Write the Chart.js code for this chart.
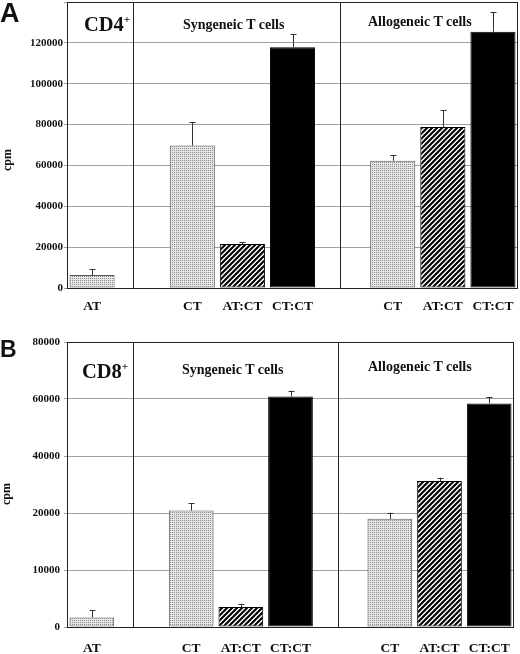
<!DOCTYPE html>
<html><head><meta charset="utf-8">
<script src="https://cdn.jsdelivr.net/npm/chart.js@4.4.1/dist/chart.umd.min.js"></script>
<style>
html,body{margin:0;padding:0;background:#fff;width:520px;height:654px;overflow:hidden;}
body{position:relative;}
#wrapA{position:absolute;left:0;top:0;width:520px;height:318px;}
#wrapB{position:absolute;left:0;top:320px;width:520px;height:334px;}
.t{position:absolute;font-family:"Liberation Serif",serif;font-weight:bold;white-space:nowrap;color:#111;line-height:1;}
.s{font-family:"Liberation Sans",Arial,sans-serif;}
.cpm{position:absolute;width:40px;height:14px;line-height:14px;text-align:center;font-family:"Liberation Serif",serif;font-weight:bold;font-size:12px;color:#111;transform:rotate(-90deg);}
sup{font-size:0.55em;vertical-align:0.75em;line-height:0;}
</style></head><body>
<div id="wrapA"><canvas id="cA"></canvas></div>
<div id="wrapB"><canvas id="cB"></canvas></div>

<div class="t s" style="left:0;top:0;font-size:27px;">A</div>
<div class="t s" style="left:0;top:338px;font-size:23px;">B</div>
<div class="cpm" style="left:-13px;top:153px;">cpm</div>
<div class="cpm" style="left:-14px;top:487px;">cpm</div>
<div class="t" style="left:84px;top:14px;font-size:20.5px;">CD4<sup>+</sup></div>
<div class="t" style="left:82px;top:361px;font-size:20.5px;">CD8<sup>+</sup></div>
<div class="t" style="left:183px;top:17.5px;font-size:14px;">Syngeneic T cells</div>
<div class="t" style="left:368px;top:14.5px;font-size:14px;">Allogeneic T cells</div>
<div class="t" style="left:182px;top:363px;font-size:14px;">Syngeneic T cells</div>
<div class="t" style="left:368px;top:360px;font-size:14px;">Allogeneic T cells</div>

<script>
// ---- data ----
const categories = ["AT", "", "CT", "AT:CT", "CT:CT", "", "CT", "AT:CT", "CT:CT"];
const barKinds   = ["dot", null, "dot", "hatch", "solid", null, "dot", "hatch", "solid"];

// Panel A (CD4+), cpm
const cd4Values = [6350, null, 69700, 21500, 117900, null, 62300, 78800, 125400];
const cd4Errors = [2900, null, 11400, 1000, 6200, null, 2700, 8300, 9500];
const cd4TickLabels = ["0", "20000", "40000", "60000", "80000", "100000", "120000", ""];

// Panel B (CD8+), in units of the evenly spaced axis (each step = one printed tick)
const cd8Values = [1680, null, 20420, 3500, 40450, null, 18970, 25620, 39230];
const cd8Errors = [1220, null, 1300, 580, 1000, null, 1100, 580, 1150];
const cd8TickLabels = ["0", "10000", "20000", "40000", "60000", "80000"];

// ---- patterns ----
function dotPattern() {
  const c = document.createElement('canvas'); c.width = 2; c.height = 2;
  const g = c.getContext('2d');
  g.fillStyle = '#e6e6e6'; g.fillRect(0, 0, 2, 2);
  g.fillStyle = '#8c8c8c'; g.fillRect(0, 0, 1, 1);
  return g.createPattern(c, 'repeat');
}
function hatchPattern() {
  const n = 5;
  const c = document.createElement('canvas'); c.width = n; c.height = n;
  const g = c.getContext('2d');
  g.fillStyle = '#fff'; g.fillRect(0, 0, n, n);
  g.strokeStyle = '#000'; g.lineWidth = 2.1;
  g.beginPath();
  g.moveTo(0, n); g.lineTo(n, 0);
  g.moveTo(-n, n); g.lineTo(n, -n);
  g.moveTo(0, 2 * n); g.lineTo(2 * n, 0);
  g.stroke();
  return g.createPattern(c, 'repeat');
}
const fills = { dot: dotPattern(), hatch: hatchPattern(), solid: '#000' };
const edges = { dot: '#555', hatch: '#000', solid: '#000' };

const framePlugin = {
  id: 'frame',
  afterDatasetsDraw(chart, args, opts) {
    const { ctx, chartArea: a, scales: { x } } = chart;
    ctx.save();
    ctx.strokeStyle = '#222'; ctx.lineWidth = 1;
    ctx.strokeRect(Math.round(a.left) + 0.5, Math.round(a.top) + 0.5,
      Math.round(a.right - a.left) - 1, Math.round(a.bottom - a.top));
    const x0 = x.getPixelForValue(0), x1 = x.getPixelForValue(1);
    opts.dividers.forEach(d => {
      const px = Math.round(x0 + d * (x1 - x0)) + 0.5;
      ctx.beginPath(); ctx.moveTo(px, a.top); ctx.lineTo(px, a.bottom); ctx.stroke();
    });
    ctx.restore();
  }
};
const errPlugin = {
  id: 'errbars',
  afterDatasetsDraw(chart) {
    const { ctx, scales: { y } } = chart;
    const ds = chart.data.datasets[0];
    const meta = chart.getDatasetMeta(0);
    ctx.save();
    ctx.strokeStyle = '#333'; ctx.lineWidth = 1;
    meta.data.forEach((bar, i) => {
      const v = ds.data[i];
      if (v == null) return;
      const top = y.getPixelForValue(v + ds.errors[i]);
      const xx = Math.round(bar.x) + 0.5;
      ctx.beginPath();
      ctx.moveTo(xx, bar.y); ctx.lineTo(xx, top);
      ctx.moveTo(xx - 3, Math.round(top) + 0.5); ctx.lineTo(xx + 3, Math.round(top) + 0.5);
      ctx.stroke();
    });
    ctx.restore();
  }
};

function makeChart(id, values, errors, yMax, yStep, tickLabels, cfg) {
  return new Chart(document.getElementById(id), {
    type: 'bar',
    data: {
      labels: categories,
      datasets: [{
        data: values, errors: errors,
        backgroundColor: barKinds.map(k => k ? fills[k] : 'transparent'),
        borderColor: barKinds.map(k => k ? edges[k] : 'transparent'),
        borderWidth: 1, borderSkipped: false,
        barPercentage: 0.9, categoryPercentage: 1
      }]
    },
    options: {
      responsive: true, maintainAspectRatio: false, animation: false,
      layout: { padding: cfg.padding },
      plugins: { legend: { display: false }, tooltip: { enabled: false }, frame: { dividers: [0.82, 4.95] } },
      scales: {
        x: {
          grid: { display: false, drawTicks: false }, border: { display: false },
          ticks: { padding: cfg.xPad, color: '#111', autoSkip: false, maxRotation: 0,
            font: { family: 'Liberation Serif', weight: 'bold', size: 13.5 } },
          afterFit(s) { s.height = cfg.xHeight; s.paddingLeft = 0; s.paddingRight = 0; }
        },
        y: {
          min: 0, max: yMax,
          ticks: { stepSize: yStep, padding: cfg.yPad, color: '#111',
            callback: (v, i) => tickLabels[i],
            font: { family: 'Liberation Serif', weight: 'bold', size: 11 } },
          grid: { color: '#a0a0a0', lineWidth: 1, tickLength: 3, drawTicks: true },
          border: { display: false },
          afterFit(s) { s.width = 67; s.paddingTop = 0; s.paddingBottom = 0; }
        }
      }
    },
    plugins: [framePlugin, errPlugin]
  });
}

makeChart('cA', cd4Values, cd4Errors, 140000, 20000, cd4TickLabels,
  { padding: { top: 2, right: 2, bottom: 0, left: 0 }, xHeight: 30, xPad: 10, yPad: 1 });
makeChart('cB', cd8Values, cd8Errors, 50000, 10000, cd8TickLabels,
  { padding: { top: 22, right: 6, bottom: 0, left: 0 }, xHeight: 27, xPad: 13, yPad: 4 });
</script>
</body></html>
